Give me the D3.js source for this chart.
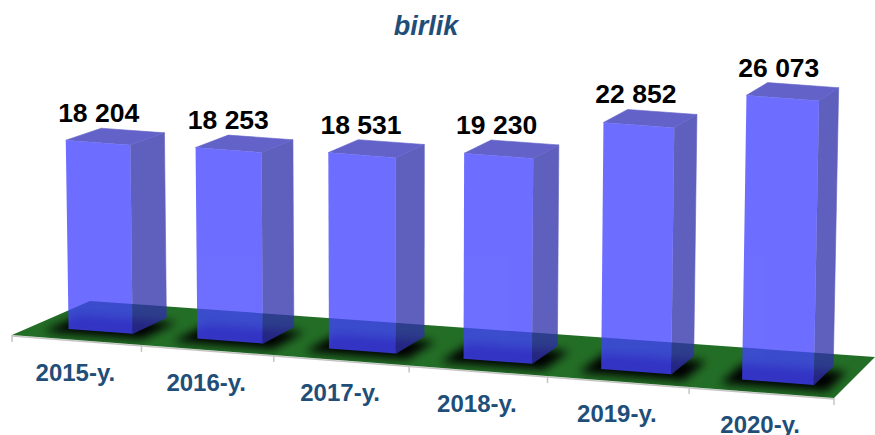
<!DOCTYPE html>
<html>
<head>
<meta charset="utf-8">
<style>
  html, body { margin: 0; padding: 0; background: #fff; overflow: hidden; }
  svg { display: block; }
  text { font-family: "Liberation Sans", Arial, sans-serif; font-weight: bold; }
</style>
<script src="https://d3js.org/d3.v7.min.js"></script>
</head>
<body>
<div id="chart"></div>
<script>
const years = ["2015-y.", "2016-y.", "2017-y.", "2018-y.", "2019-y.", "2020-y."];
const values = [18204, 18253, 18531, 19230, 22852, 26073];
const chartTitle = "birlik";

const W = 875, H = 435;

// floor corners in screen pixels
const floorA = [12, 335], floorB = [834, 398], floorC = [875, 357], floorD = [90, 301];
const depthFront = 0.26, depthBack = 0.72;

const svg = d3.select("#chart").append("svg").attr("width", W).attr("height", H);
const defs = svg.append("defs");
defs.append("filter").attr("id", "soft")
  .attr("filterUnits", "userSpaceOnUse")
  .attr("x", 0).attr("y", 250).attr("width", W).attr("height", 185)
  .append("feGaussianBlur").attr("stdDeviation", 5);
defs.append("clipPath").attr("id", "floorClip")
  .append("polygon").attr("points", [floorA, floorB, floorC, floorD].join(" "));

// categories along the floor, slightly foreshortened to the left
const band = d3.scaleBand().domain(years).range([0, 1]).paddingInner(0.5).paddingOuter(0.25);
const warp = t => t / (t + 1.07 * (1 - t));
const heightScale = d3.scaleLinear().domain([0, 30000]).range([0, 310]);

// u along the front edge, v into the depth, h up from the floor
function project(u, v, h) {
  const fx = floorA[0] + (floorB[0] - floorA[0]) * u, fy = floorA[1] + (floorB[1] - floorA[1]) * u;
  const bx = floorD[0] + (floorC[0] - floorD[0]) * u, by = floorD[1] + (floorC[1] - floorD[1]) * u;
  const x = fx + (bx - fx) * v, y = fy + (by - fy) * v;
  const hh = h * (1 - 0.02 * (v - depthFront) / (depthBack - depthFront));
  return [x + 4.5e-5 * (x - 400) * hh, y - hh];
}

const pts = a => a.join(" ");
const line = d3.line();

svg.append("text").attr("x", 426).attr("y", 35).attr("text-anchor", "middle")
  .attr("font-size", 27).attr("font-style", "italic").attr("fill", "#1f4e79").text(chartTitle);

// floor edge and ticks
const edgeG = svg.append("g").attr("stroke", "#c4c4c4").attr("fill", "none").attr("stroke-width", 1.5);
edgeG.append("path").attr("d", line([[floorA[0], floorA[1] + 1], [floorB[0], floorB[1] + 1]]));
d3.range(years.length + 1).forEach(i => {
  const p = project(warp(i / years.length), 0, 0);
  edgeG.append("path").attr("d", line([[p[0], p[1]], [p[0], p[1] + 7]]));
});

svg.append("polygon").attr("points", pts([floorA, floorB, floorC, floorD])).attr("fill", "#236e26");

// soft shadows under the bars
const shadowG = svg.append("g").attr("clip-path", "url(#floorClip)")
  .append("g").attr("filter", "url(#soft)");
shadowG.selectAll("polygon").data(years).join("polygon")
  .attr("fill", "#000")
  .attr("points", d => {
    const t0 = band(d) + 0.006, t1 = t0 + band.bandwidth();
    const u0 = warp(t0) - 0.02, u1 = warp(t1) + 0.022;
    return pts([project(u0, 0.14, 0), project(u1, 0.14, 0), project(u1, 0.62, 0), project(u0, 0.62, 0)]);
  });

// bars
const bars = svg.selectAll(".bar").data(years).join("g").attr("class", "bar");
bars.each(function (d, i) {
  const g = d3.select(this);
  const t0 = band(d) + 0.006, t1 = t0 + band.bandwidth();
  const u0 = warp(t0), u1 = warp(t1);
  // bars grow a little towards the near (right) end
  const h = heightScale(values[i]) * (1 + 0.063 * u0);
  const fl = project(u0, depthFront, 0), fr = project(u1, depthFront, 0), br = project(u1, depthBack, 0);
  const tfl = project(u0, depthFront, h), tfr = project(u1, depthFront, h);
  const tbr = project(u1, depthBack, h), tbl = project(u0, depthBack, h);

  const faces = g.append("g").attr("opacity", 0.77);
  faces.append("polygon").attr("points", pts([fr, br, tbr, tfr])).attr("fill", "rgb(48,48,171)").attr("stroke", "rgb(48,48,171)").attr("stroke-width", 0.6);
  faces.append("polygon").attr("points", pts([tfl, tfr, tbr, tbl])).attr("fill", "rgb(52,52,186)").attr("stroke", "rgb(52,52,186)").attr("stroke-width", 0.6);
  faces.append("polygon").attr("points", pts([fl, fr, tfr, tfl])).attr("fill", "rgb(66,66,255)");

  const labelX = (tfl[0] + tbr[0]) / 2;
  g.append("text")
    .attr("x", labelX - 15.3 + 0.004 * (labelX - 400))
    .attr("y", tbl[1] - 6)
    .attr("text-anchor", "middle")
    .attr("font-size", 26.5)
    .attr("fill", "#000")
    .text(d3.format(",")(values[i]).replace(/,/g, " "));
});

// year labels follow the front edge
svg.selectAll(".year").data(years).join("text").attr("class", "year")
  .attr("text-anchor", "middle")
  .attr("font-size", 24)
  .attr("fill", "#1f4e79")
  .attr("x", d => project(warp(band(d) + band.bandwidth() / 2), 0, 0)[0] - 1)
  .attr("y", d => project(warp(band(d) + band.bandwidth() / 2), 0, 0)[1] + 41)
  .text(d => d);
</script>
</body>
</html>
